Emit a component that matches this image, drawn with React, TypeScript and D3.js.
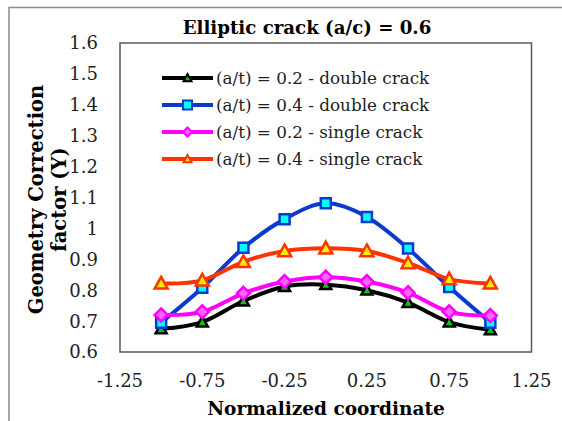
import React from "react";
import * as d3 from "d3";

// Normalized coordinate along the crack front
const coords = [-1, -0.75, -0.5, -0.25, 0, 0.25, 0.5, 0.75, 1];

// Geometry correction factor Y for each case
const doubleCrack02 = [0.675, 0.697, 0.765, 0.812, 0.818, 0.8, 0.76, 0.697, 0.672];
const doubleCrack04 = [0.695, 0.808, 0.937, 1.03, 1.081, 1.037, 0.935, 0.81, 0.695];
const singleCrack02 = [0.72, 0.73, 0.79, 0.828, 0.842, 0.828, 0.792, 0.73, 0.718];
const singleCrack04 = [0.822, 0.832, 0.892, 0.927, 0.936, 0.927, 0.888, 0.836, 0.822];

const seriesLabels = [
  "(a/t) = 0.2 - double crack",
  "(a/t) = 0.4 - double crack",
  "(a/t) = 0.2 - single crack",
  "(a/t) = 0.4 - single crack",
];

const xTicks = [-1.25, -0.75, -0.25, 0.25, 0.75, 1.25];
const yTicks = [0.6, 0.7, 0.8, 0.9, 1, 1.1, 1.2, 1.3, 1.4, 1.5, 1.6];

const W = 562;
const H = 421;
const plot = { left: 120, right: 531.5, top: 43, bottom: 352 };

type Marker = "triangle" | "square" | "diamond";
interface Series {
  values: number[];
  label: string;
  line: string;
  fill: string;
  stroke: string;
  marker: Marker;
  size: number;
}

const series: Series[] = [
  { values: doubleCrack02, label: seriesLabels[0], line: "#000000", fill: "#00CC00", stroke: "#000000", marker: "triangle", size: 11 },
  { values: doubleCrack04, label: seriesLabels[1], line: "#0A3BCC", fill: "#00FFFF", stroke: "#0A3BCC", marker: "square", size: 10 },
  { values: singleCrack02, label: seriesLabels[2], line: "#FF00FF", fill: "#FF66FF", stroke: "#FF00FF", marker: "diamond", size: 13 },
  { values: singleCrack04, label: seriesLabels[3], line: "#FF3300", fill: "#FFEE00", stroke: "#FF3300", marker: "triangle", size: 13 },
];

const FONT = "'DejaVu Serif', serif";

// plain hyphen for negatives, as in the axis labels
const fmtX = (v: number) => d3.format(".2f")(v).replace("\u2212", "-");
const fmtY = (v: number) => d3.format("~g")(v);

function markerPath(kind: Marker, size: number): string {
  const s = size / 2;
  if (kind === "square") return `M${-s},${-s}H${s}V${s}H${-s}Z`;
  if (kind === "diamond") return `M0,${-s}L${s},0L0,${s}L${-s},0Z`;
  return `M0,${-s}L${s},${s * 0.8}L${-s},${s * 0.8}Z`;
}

export default function App() {
  const x = d3.scaleLinear().domain([-1.25, 1.25]).range([plot.left, plot.right]);
  const y = d3.scaleLinear().domain([0.6, 1.6]).range([plot.bottom, plot.top]);

  const line = d3
    .line<number>()
    .x((_, i) => x(coords[i]))
    .y((d) => y(d))
    .curve(d3.curveCardinal.tension(0));

  const legendX0 = 162;
  const legendX1 = 213;
  const legendY0 = 78;
  const legendDy = 27;

  const midY = (plot.top + plot.bottom) / 2 + 2;

  return (
    <svg width={W} height={H} style={{ position: "absolute", left: 0, top: 0, background: "#fff" }}>
      {/* outer frame */}
      <path d={`M9,${H}V7.5H${W}`} fill="none" stroke="#8c8c8c" strokeWidth={1.5} />

      {/* title */}
      <text x={307} y={34} textAnchor="middle" fontFamily={FONT} fontWeight="bold" fontSize={18.2} fill="#000">
        Elliptic crack (a/c) = 0.6
      </text>

      {/* plot frame */}
      <rect
        x={plot.left}
        y={plot.top}
        width={plot.right - plot.left}
        height={plot.bottom - plot.top}
        fill="none"
        stroke="#595959"
        strokeWidth={1.5}
      />

      {/* y ticks */}
      {yTicks.map((t) => (
        <text key={t} x={98} y={y(t)} dy="0.36em" textAnchor="end" fontFamily={FONT} fontSize={18} fill="#222">
          {fmtY(t)}
        </text>
      ))}

      {/* x ticks */}
      {xTicks.map((t) => (
        <text key={t} x={x(t)} y={387} textAnchor="middle" fontFamily={FONT} fontSize={18} fill="#222">
          {fmtX(t)}
        </text>
      ))}

      {/* axis titles */}
      <text x={326} y={415} textAnchor="middle" fontFamily={FONT} fontWeight="bold" fontSize={18.5} fill="#000">
        Normalized coordinate
      </text>
      <g transform={`translate(43,${midY}) rotate(-90)`}>
        <text x={0} y={0} textAnchor="middle" fontFamily={FONT} fontWeight="bold" fontSize={19.5} fill="#000">
          Geometry Correction
        </text>
        <text x={0} y={23} textAnchor="middle" fontFamily={FONT} fontWeight="bold" fontSize={19.5} fill="#000">
          factor (Y)
        </text>
      </g>

      {/* data */}
      <g>
        {series.map((s, si) => (
          <g key={si}>
            <path d={line(s.values) ?? ""} fill="none" stroke={s.line} strokeWidth={4} strokeLinejoin="round" />
            {s.values.map((v, i) => (
              <path
                key={i}
                transform={`translate(${x(coords[i])},${y(v)})`}
                d={markerPath(s.marker, s.size)}
                fill={s.fill}
                stroke={s.stroke}
                strokeWidth={2.5}
                strokeLinejoin="miter"
              />
            ))}
          </g>
        ))}
      </g>

      {/* legend */}
      {series.map((s, i) => {
        const ly = legendY0 + i * legendDy;
        const cx = (legendX0 + legendX1) / 2;
        return (
          <g key={i}>
            <line x1={legendX0} x2={legendX1} y1={ly} y2={ly} stroke={s.line} strokeWidth={4} />
            <path
              transform={`translate(${cx},${ly})`}
              d={markerPath(s.marker, s.marker === "triangle" ? 8 : 9)}
              fill={s.fill}
              stroke={s.stroke}
              strokeWidth={2}
            />
            <text x={legendX1 + 3} y={ly} dy="0.35em" fontFamily={FONT} fontSize={16.8} fill="#222">
              {s.label}
            </text>
          </g>
        );
      })}
    </svg>
  );
}
